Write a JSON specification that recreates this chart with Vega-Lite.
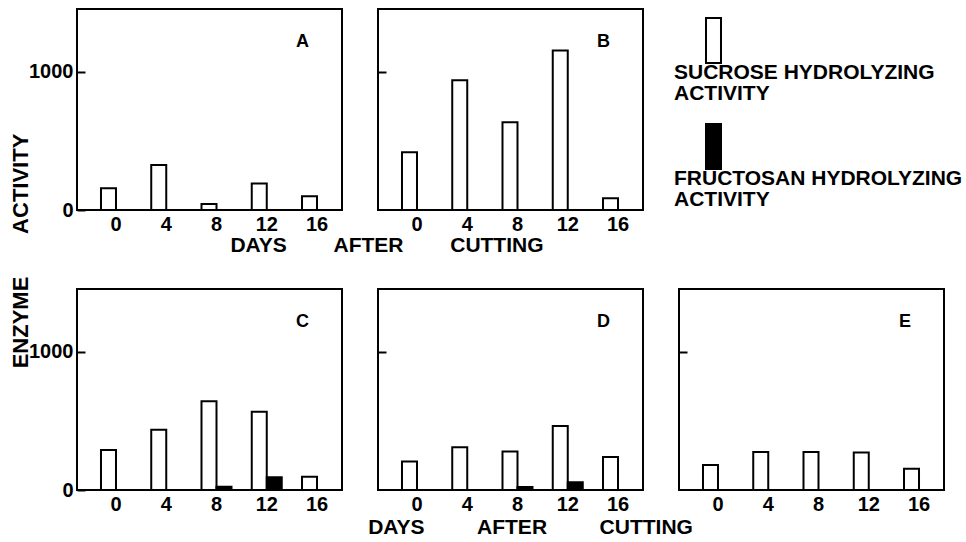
{
  "$schema": "https://vega.github.io/schema/vega-lite/v6.json",
  "background": "white",
  "padding": {"left": 8, "top": 8, "right": 0, "bottom": 0},
  "datasets": {
    "bars": [
      {"panel": "A", "day": 0, "activity": "SUCROSE HYDROLYZING ACTIVITY", "value": 157},
      {"panel": "A", "day": 4, "activity": "SUCROSE HYDROLYZING ACTIVITY", "value": 326},
      {"panel": "A", "day": 8, "activity": "SUCROSE HYDROLYZING ACTIVITY", "value": 43},
      {"panel": "A", "day": 12, "activity": "SUCROSE HYDROLYZING ACTIVITY", "value": 191},
      {"panel": "A", "day": 16, "activity": "SUCROSE HYDROLYZING ACTIVITY", "value": 99},
      {"panel": "B", "day": 0, "activity": "SUCROSE HYDROLYZING ACTIVITY", "value": 418},
      {"panel": "B", "day": 4, "activity": "SUCROSE HYDROLYZING ACTIVITY", "value": 940},
      {"panel": "B", "day": 8, "activity": "SUCROSE HYDROLYZING ACTIVITY", "value": 635},
      {"panel": "B", "day": 12, "activity": "SUCROSE HYDROLYZING ACTIVITY", "value": 1154},
      {"panel": "B", "day": 16, "activity": "SUCROSE HYDROLYZING ACTIVITY", "value": 85},
      {"panel": "C", "day": 0, "activity": "SUCROSE HYDROLYZING ACTIVITY", "value": 290},
      {"panel": "C", "day": 4, "activity": "SUCROSE HYDROLYZING ACTIVITY", "value": 437},
      {"panel": "C", "day": 8, "activity": "SUCROSE HYDROLYZING ACTIVITY", "value": 643},
      {"panel": "C", "day": 8, "activity": "FRUCTOSAN HYDROLYZING ACTIVITY", "value": 24},
      {"panel": "C", "day": 12, "activity": "SUCROSE HYDROLYZING ACTIVITY", "value": 567},
      {"panel": "C", "day": 12, "activity": "FRUCTOSAN HYDROLYZING ACTIVITY", "value": 92},
      {"panel": "C", "day": 16, "activity": "SUCROSE HYDROLYZING ACTIVITY", "value": 96},
      {"panel": "D", "day": 0, "activity": "SUCROSE HYDROLYZING ACTIVITY", "value": 206},
      {"panel": "D", "day": 4, "activity": "SUCROSE HYDROLYZING ACTIVITY", "value": 309},
      {"panel": "D", "day": 8, "activity": "SUCROSE HYDROLYZING ACTIVITY", "value": 278},
      {"panel": "D", "day": 8, "activity": "FRUCTOSAN HYDROLYZING ACTIVITY", "value": 22},
      {"panel": "D", "day": 12, "activity": "SUCROSE HYDROLYZING ACTIVITY", "value": 464},
      {"panel": "D", "day": 12, "activity": "FRUCTOSAN HYDROLYZING ACTIVITY", "value": 56},
      {"panel": "D", "day": 16, "activity": "SUCROSE HYDROLYZING ACTIVITY", "value": 239},
      {"panel": "E", "day": 0, "activity": "SUCROSE HYDROLYZING ACTIVITY", "value": 181},
      {"panel": "E", "day": 4, "activity": "SUCROSE HYDROLYZING ACTIVITY", "value": 275},
      {"panel": "E", "day": 8, "activity": "SUCROSE HYDROLYZING ACTIVITY", "value": 275},
      {"panel": "E", "day": 12, "activity": "SUCROSE HYDROLYZING ACTIVITY", "value": 272},
      {"panel": "E", "day": 16, "activity": "SUCROSE HYDROLYZING ACTIVITY", "value": 154}
    ]
  },
  "columns": 3,
  "bounds": "flush",
  "spacing": {"row": 79, "column": 36},
  "resolve": {"scale": {"fill": "shared"}, "legend": {"fill": "shared"}},
  "concat": [
    {
      "width": 265, "height": 201,
      "data": {"name": "bars"},
      "transform": [{"filter": "datum.panel == 'A'"}],
      "title": {"text": "A"},
      "mark": {"type": "bar", "stroke": "black", "strokeWidth": 2},
      "encoding": {
        "x": {"field": "day", "type": "ordinal",
              "scale": {"domain": [0, 4, 8, 12, 16], "paddingInner": 0.403, "paddingOuter": 0.338, "align": 0.706},
              "axis": {"title": "DAYS\u00a0\u00a0\u00a0\u00a0\u00a0\u00a0\u00a0\u00a0AFTER\u00a0\u00a0\u00a0\u00a0\u00a0\u00a0\u00a0\u00a0CUTTING",
                       "titleX": 309.5, "titleY": 41, "titleAlign": "center", "titleBaseline": "alphabetic"}},
        "xOffset": {"field": "activity", "type": "nominal",
                    "scale": {"domain": ["SUCROSE HYDROLYZING ACTIVITY", "FRUCTOSAN HYDROLYZING ACTIVITY"], "paddingInner": 0, "paddingOuter": 0}},
        "y": {"field": "value", "type": "quantitative",
              "scale": {"domain": [0, 1455], "nice": false},
              "axis": {"values": [0, 1000], "format": "d", "tickSize": -8, "labelPadding": 12,
                       "title": "ENZYME\u00a0\u00a0\u00a0\u00a0\u00a0\u00a0\u00a0ACTIVITY",
                       "titleAngle": -90, "titleX": -50, "titleY": 241.5, "titleAlign": "center", "titleBaseline": "alphabetic", "titleFontSize": 22}},
        "fill": {"field": "activity", "type": "nominal",
                 "scale": {"domain": ["SUCROSE HYDROLYZING ACTIVITY", "FRUCTOSAN HYDROLYZING ACTIVITY"], "range": ["white", "black"]},
                 "legend": {
                   "orient": "none", "legendX": 613, "legendY": 8, "direction": "vertical", "title": null, "padding": 0,
                   "symbolType": "M-0.333,-1H0.333V1H-0.333Z", "symbolSize": 2025,
                   "symbolStrokeColor": "black", "symbolStrokeWidth": 2,
                   "labelExpr": "['', slice(datum.label, 0, lastindexof(datum.label, ' ')), slice(datum.label, lastindexof(datum.label, ' ') + 1)]",
                   "labelOffset": -63, "labelBaseline": "top", "labelLimit": 0,
                   "labelFont": "Liberation Sans", "labelFontSize": 21, "labelFontWeight": "bold", "labelColor": "black",
                   "rowPadding": 16
                 }}
      }
    },
    {
      "width": 265, "height": 201,
      "data": {"name": "bars"},
      "transform": [{"filter": "datum.panel == 'B'"}],
      "title": {"text": "B"},
      "mark": {"type": "bar", "stroke": "black", "strokeWidth": 2},
      "encoding": {
        "x": {"field": "day", "type": "ordinal",
              "scale": {"domain": [0, 4, 8, 12, 16], "paddingInner": 0.403, "paddingOuter": 0.338, "align": 0.706},
              "axis": {"title": null}},
        "xOffset": {"field": "activity", "type": "nominal",
                    "scale": {"domain": ["SUCROSE HYDROLYZING ACTIVITY", "FRUCTOSAN HYDROLYZING ACTIVITY"], "paddingInner": 0, "paddingOuter": 0}},
        "y": {"field": "value", "type": "quantitative",
              "scale": {"domain": [0, 1455], "nice": false},
              "axis": {"values": [1000], "tickSize": -8, "labels": false, "title": null}},
        "fill": {"field": "activity", "type": "nominal",
                 "scale": {"domain": ["SUCROSE HYDROLYZING ACTIVITY", "FRUCTOSAN HYDROLYZING ACTIVITY"], "range": ["white", "black"]}}
      }
    },
    {
      "width": 265, "height": 201,
      "data": {"values": []},
      "mark": {"type": "point"},
      "view": {"stroke": null}
    },
    {
      "width": 265, "height": 201,
      "data": {"name": "bars"},
      "transform": [{"filter": "datum.panel == 'C'"}],
      "title": {"text": "C"},
      "mark": {"type": "bar", "stroke": "black", "strokeWidth": 2},
      "encoding": {
        "x": {"field": "day", "type": "ordinal",
              "scale": {"domain": [0, 4, 8, 12, 16], "paddingInner": 0.403, "paddingOuter": 0.338, "align": 0.706},
              "axis": {"title": null}},
        "xOffset": {"field": "activity", "type": "nominal",
                    "scale": {"domain": ["SUCROSE HYDROLYZING ACTIVITY", "FRUCTOSAN HYDROLYZING ACTIVITY"], "paddingInner": 0, "paddingOuter": 0}},
        "y": {"field": "value", "type": "quantitative",
              "scale": {"domain": [0, 1455], "nice": false},
              "axis": {"values": [0, 1000], "format": "d", "tickSize": -8, "labelPadding": 12, "title": null}},
        "fill": {"field": "activity", "type": "nominal",
                 "scale": {"domain": ["SUCROSE HYDROLYZING ACTIVITY", "FRUCTOSAN HYDROLYZING ACTIVITY"], "range": ["white", "black"]}}
      }
    },
    {
      "width": 265, "height": 201,
      "data": {"name": "bars"},
      "transform": [{"filter": "datum.panel == 'D'"}],
      "title": {"text": "D"},
      "mark": {"type": "bar", "stroke": "black", "strokeWidth": 2},
      "encoding": {
        "x": {"field": "day", "type": "ordinal",
              "scale": {"domain": [0, 4, 8, 12, 16], "paddingInner": 0.403, "paddingOuter": 0.338, "align": 0.706},
              "axis": {"title": "DAYS\u00a0\u00a0\u00a0\u00a0\u00a0\u00a0\u00a0\u00a0\u00a0AFTER\u00a0\u00a0\u00a0\u00a0\u00a0\u00a0\u00a0\u00a0\u00a0CUTTING",
                       "titleX": 152, "titleY": 43, "titleAlign": "center", "titleBaseline": "alphabetic"}},
        "xOffset": {"field": "activity", "type": "nominal",
                    "scale": {"domain": ["SUCROSE HYDROLYZING ACTIVITY", "FRUCTOSAN HYDROLYZING ACTIVITY"], "paddingInner": 0, "paddingOuter": 0}},
        "y": {"field": "value", "type": "quantitative",
              "scale": {"domain": [0, 1455], "nice": false},
              "axis": {"values": [1000], "tickSize": -8, "labels": false, "title": null}},
        "fill": {"field": "activity", "type": "nominal",
                 "scale": {"domain": ["SUCROSE HYDROLYZING ACTIVITY", "FRUCTOSAN HYDROLYZING ACTIVITY"], "range": ["white", "black"]}}
      }
    },
    {
      "width": 265, "height": 201,
      "data": {"name": "bars"},
      "transform": [{"filter": "datum.panel == 'E'"}],
      "title": {"text": "E"},
      "mark": {"type": "bar", "stroke": "black", "strokeWidth": 2},
      "encoding": {
        "x": {"field": "day", "type": "ordinal",
              "scale": {"domain": [0, 4, 8, 12, 16], "paddingInner": 0.403, "paddingOuter": 0.338, "align": 0.706},
              "axis": {"title": null}},
        "xOffset": {"field": "activity", "type": "nominal",
                    "scale": {"domain": ["SUCROSE HYDROLYZING ACTIVITY", "FRUCTOSAN HYDROLYZING ACTIVITY"], "paddingInner": 0, "paddingOuter": 0}},
        "y": {"field": "value", "type": "quantitative",
              "scale": {"domain": [0, 1455], "nice": false},
              "axis": {"values": [1000], "tickSize": -8, "labels": false, "title": null}},
        "fill": {"field": "activity", "type": "nominal",
                 "scale": {"domain": ["SUCROSE HYDROLYZING ACTIVITY", "FRUCTOSAN HYDROLYZING ACTIVITY"], "range": ["white", "black"]}}
      }
    }
  ],
  "config": {
    "font": "Liberation Sans",
    "view": {"stroke": "black", "strokeWidth": 2},
    "style": {"guide-label": {"lineHeight": 21}},
    "title": {"anchor": "end", "frame": "group", "orient": "top", "offset": 0, "dx": -33, "dy": 46, "baseline": "alphabetic",
              "fontSize": 18, "fontWeight": "bold", "color": "black", "font": "Liberation Sans"},
    "axis": {"grid": false, "domain": false, "labelFont": "Liberation Sans", "labelFontWeight": "bold", "labelFontSize": 20,
             "labelColor": "black", "tickColor": "black", "tickWidth": 2,
             "titleFont": "Liberation Sans", "titleFontWeight": "bold", "titleFontSize": 21, "titleColor": "black"},
    "axisX": {"ticks": false, "labelAngle": 0, "labelPadding": 4, "labelBaseline": "top"},
    "axisY": {"labelBaseline": "middle"}
  }
}
